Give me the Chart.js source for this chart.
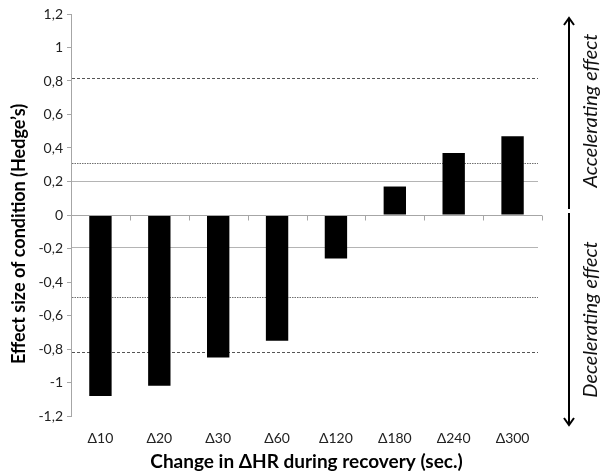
<!DOCTYPE html>
<html>
<head>
<meta charset="utf-8">
<script src="https://cdn.jsdelivr.net/npm/chart.js@4"></script>
<style>
  html, body { margin: 0; padding: 0; background: #fff; }
  #wrap { width: 602px; height: 473px; position: relative; }
</style>
</head>
<body>
<div id="wrap"><canvas id="chart"></canvas></div>
<script>
// Recovery intervals and effect sizes (Hedge's g)
const categories = ['Δ10', 'Δ20', 'Δ30', 'Δ60', 'Δ120', 'Δ180', 'Δ240', 'Δ300'];
const effectSizes = [-1.08, -1.02, -0.85, -0.75, -0.26, 0.17, 0.37, 0.47];

// Y axis ticks
const yTicks = [-1.2, -1, -0.8, -0.6, -0.4, -0.2, 0, 0.2, 0.4, 0.6, 0.8, 1, 1.2];

// Horizontal reference levels
const dashedLevels = [0.82, -0.82];
const dottedLevels = [0.31, -0.49];
const solidLevels = [0.2, -0.19];

const yTitle = 'Effect size of condition (Hedge’s)';
const xTitle = 'Change in ΔHR during recovery (sec.)';

const FONT = 'Lato, "Open Sans", sans-serif';

function fmt(v) {
  const r = Math.round(v * 10) / 10;
  return String(r).replace('.', ',');
}

const referencePlugin = {
  id: 'referenceLines',
  beforeDatasetsDraw(chart) {
    const { ctx, chartArea, scales: { y } } = chart;
    const x0 = chartArea.left + 1;
    const x1 = chartArea.right - 4;
    const drawSet = (levels, color, dash, width) => {
      ctx.save();
      ctx.strokeStyle = color;
      ctx.lineWidth = width;
      ctx.setLineDash(dash);
      levels.forEach(v => {
        const py = Math.round(y.getPixelForValue(v)) + 0.5;
        ctx.beginPath();
        ctx.moveTo(x0, py);
        ctx.lineTo(x1, py);
        ctx.stroke();
      });
      ctx.restore();
    };
    drawSet(solidLevels, '#b4b4b4', [], 1);
    drawSet(dottedLevels, '#6f6f6f', [1.5, 1], 1);
    drawSet(dashedLevels, '#555555', [3, 2], 1);
  },
  afterDatasetsDraw(chart) {
    const { ctx, chartArea, scales: { y } } = chart;
    // zero axis with category boundary ticks
    const py = Math.round(y.getPixelForValue(0)) + 0.5;
    ctx.save();
    ctx.strokeStyle = '#a6a6a6';
    ctx.lineWidth = 1;
    ctx.beginPath();
    ctx.moveTo(chartArea.left, py);
    ctx.lineTo(chartArea.right, py);
    const n = categories.length;
    const step = (chartArea.right - chartArea.left) / n;
    for (let i = 1; i <= n; i++) {
      const px = Math.round(chartArea.left + i * step) + 0.5;
      ctx.moveTo(px, py);
      ctx.lineTo(px, py + 5);
    }
    ctx.stroke();
    ctx.restore();
  },
  afterDraw(chart) {
    const { ctx, chartArea, scales: { y } } = chart;
    const ax = chartArea.right + 27;
    const mid = y.getPixelForValue(0);
    const drawArrow = (yFrom, yTo) => {
      const dir = yTo < yFrom ? -1 : 1;
      ctx.beginPath();
      ctx.moveTo(ax, yFrom);
      ctx.lineTo(ax, yTo);
      ctx.moveTo(ax - 5, yTo - dir * 7);
      ctx.lineTo(ax, yTo);
      ctx.lineTo(ax + 5, yTo - dir * 7);
      ctx.stroke();
    };
    ctx.save();
    ctx.strokeStyle = '#000';
    ctx.lineWidth = 2;
    ctx.lineJoin = 'miter';
    drawArrow(mid - 6, chartArea.top + 4);
    drawArrow(mid - 2, chartArea.bottom + 9);
    ctx.restore();

    const vText = (text, cx, cy, font, color) => {
      ctx.save();
      ctx.translate(cx, cy);
      ctx.rotate(-Math.PI / 2);
      ctx.font = font;
      ctx.fillStyle = color;
      ctx.textAlign = 'center';
      ctx.textBaseline = 'middle';
      ctx.fillText(text, 0, 0);
      ctx.restore();
    };
    const tx = chartArea.right + 49;
    const side = 'italic 20px ' + FONT;
    vText('Accelerating effect', tx, (chartArea.top + mid) / 2 - 4, side, '#111');
    vText('Decelerating effect', tx, (mid + chartArea.bottom) / 2 + 4, side, '#111');

    // y axis title
    vText(yTitle, 19, (chartArea.top + chartArea.bottom) / 2 + 19, 'bold 18px ' + FONT, '#000');
  }
};

new Chart(document.getElementById('chart'), {
  type: 'bar',
  data: {
    labels: categories,
    datasets: [{
      data: effectSizes,
      backgroundColor: '#000',
      borderColor: '#000',
      borderWidth: 0,
      categoryPercentage: 1,
      barPercentage: 0.38
    }]
  },
  options: {
    responsive: true,
    maintainAspectRatio: false,
    animation: false,
    devicePixelRatio: 1,
    layout: { padding: { top: 14, right: 60, left: 0, bottom: 0 } },
    plugins: { legend: { display: false }, tooltip: { enabled: false } },
    scales: {
      x: {
        grid: { display: false },
        border: { display: false },
        ticks: { color: '#222', font: { family: FONT, size: 14 }, padding: 6 },
        afterFit(scale) { scale.height = 57; },
        title: {
          display: true,
          text: xTitle,
          color: '#000',
          font: { family: FONT, size: 19, weight: 'bold' },
          padding: { top: 0, bottom: 0 }
        }
      },
      y: {
        min: -1.2,
        max: 1.2,
        afterBuildTicks(scale) { scale.ticks = yTicks.map(v => ({ value: v })); },
        afterFit(scale) { scale.width = 71; },
        grid: { drawOnChartArea: false, drawTicks: true, tickLength: 4, color: '#a6a6a6' },
        border: { color: '#a6a6a6' },
        ticks: {
          color: '#222',
          font: { family: FONT, size: 14 },
          padding: 4,
          callback: v => fmt(v)
        },
        title: { display: false }
      }
    }
  },
  plugins: [referencePlugin]
});
</script>
</body>
</html>
